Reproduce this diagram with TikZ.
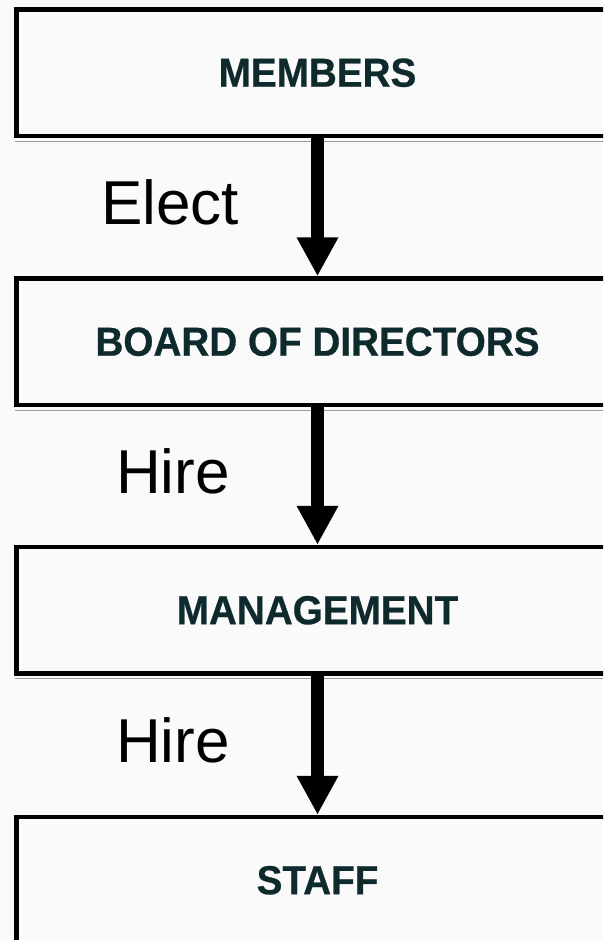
\documentclass[tikz,border=0pt]{standalone}
\usepackage{fontspec}
\setmainfont{Liberation Sans}
\newfontfamily\boxfont[FakeStretch=0.955,FakeBold=0.6]{Liberation Sans Bold}
\usetikzlibrary{arrows.meta}
\definecolor{boxtext}{RGB}{14,42,45}
\definecolor{bgcol}{RGB}{250,250,250}
\tikzset{
  orgbox/.style={draw=black, line width=4.5pt, line join=miter, rectangle,
    minimum width=602pt, minimum height=126.5pt, inner sep=0pt,
    font=\boxfont\fontsize{40.5}{44}\selectfont, text=boxtext},
  flowarrow/.style={line width=13pt,
    -{Triangle[width=39pt,length=39pt]}},
  verb/.style={anchor=base west, inner sep=0pt, font=\fontsize{62}{68}\selectfont, text=black},
  shadowline/.style={draw=black!40, line width=1pt}
}
\begin{document}
\begin{tikzpicture}[x=1pt, y=-1pt]
  \useasboundingbox (0,0) rectangle (603,940);
  \clip (0,0) rectangle (603,940);
  \fill[bgcol] (0,0) rectangle (603,940);

  \node[orgbox] (mem) at (317.5,72.75) {MEMBERS};
  \node[orgbox] (bod) at (317.5,341.75) {BOARD OF DIRECTORS};
  \node[orgbox] (mgt) at (317.5,610.25) {MANAGEMENT};
  \node[orgbox] (stf) at (317.5,880.25) {STAFF};

  \foreach \b in {mem,bod,mgt}{
    \draw[shadowline] ([xshift=1pt,yshift=-2.75pt]\b.south west) -- ([yshift=-2.75pt]\b.south east);
  }

  \draw[flowarrow] (mem.south) -- (bod.north);
  \draw[flowarrow] (bod.south) -- (mgt.north);
  \draw[flowarrow] (mgt.south) -- (stf.north);

  \node[verb] (elect) at (101,224) {Elect};
  \node[verb] (hire1) at (116,493) {Hire};
  \node[verb] (hire2) at (116,762) {Hire};
\end{tikzpicture}
\end{document}
